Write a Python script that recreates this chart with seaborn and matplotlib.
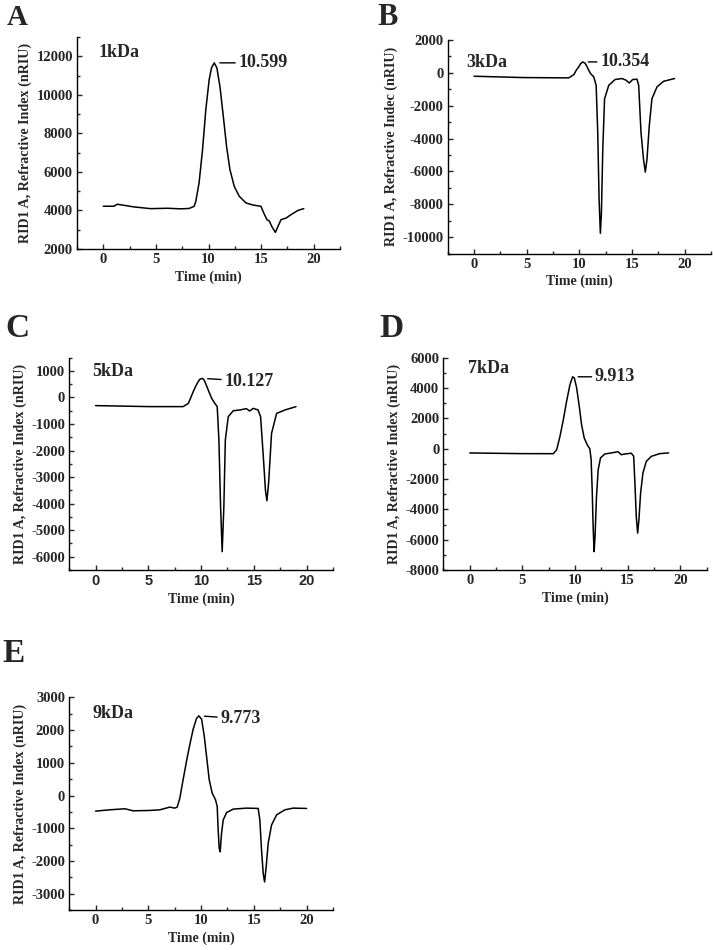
import numpy as np
import matplotlib
matplotlib.use("Agg")
import matplotlib.pyplot as plt
from matplotlib.ticker import MultipleLocator, AutoMinorLocator
import seaborn as sns

# Chromatogram traces (time in min, refractive index in nRIU)
t_1kda = [0, 1.0, 1.33, 2.9, 4.5, 6.1, 7.36, 8.15, 8.63, 8.79, 9.1, 9.43, 9.74, 10.06, 10.28,
          10.54, 10.79, 11.08, 11.4, 11.71, 12.03, 12.44, 12.92, 13.55, 14.19, 14.98, 15.24,
          15.55, 15.78, 16.0, 16.35, 16.63, 16.89, 17.36, 17.84, 18.5, 19.05]
ri_1kda = [4215, 4215, 4320, 4180, 4090, 4110, 4080, 4100, 4210, 4470, 5430, 7160, 9230, 10790,
           11400, 11660, 11400, 10440, 8890, 7330, 6120, 5250, 4730, 4390, 4280, 4210, 3870,
           3520, 3440, 3170, 2860, 3210, 3520, 3600, 3780, 4000, 4090]

t_3kda = [0, 4.6, 9.0, 9.5, 9.7, 9.95, 10.1, 10.33, 10.55, 10.74, 10.9, 11.06, 11.37, 11.6,
          11.75, 11.88, 12.0, 12.1, 12.23, 12.4, 12.8, 13.4, 14.06, 14.44, 14.75, 15.07, 15.48,
          15.64, 15.86, 16.1, 16.27, 16.43, 16.65, 16.9, 17.38, 18.0, 19.05]
ri_3kda = [-210, -290, -310, -100, 150, 360, 540, 660, 580, 360, 150, -40, -250, -760, -3620,
           -7710, -9760, -8530, -4650, -1580, -760, -410, -350, -450, -620, -410, -390, -760,
           -3620, -5260, -6040, -5260, -3210, -1580, -860, -520, -350]

t_5kda = [0, 5.15, 8.3, 8.8, 9.26, 9.5, 9.73, 9.9, 10.1, 10.25, 10.36, 10.5, 10.68, 11.0, 11.3,
          11.53, 11.69, 11.85, 12.0, 12.16, 12.3, 12.58, 13.05, 13.68, 14.3, 14.6, 14.94, 15.4,
          15.64, 15.9, 16.1, 16.24, 16.4, 16.68, 17.16, 17.95, 19.0]
ri_5kda = [-306, -344, -344, -220, 220, 430, 600, 690, 720, 680, 600, 460, 280, -30, -220,
           -344, -1600, -4110, -5810, -4110, -1600, -720, -500, -470, -420, -510, -410, -470,
           -720, -2230, -3490, -3890, -3230, -1350, -600, -470, -344]

t_7kda = [0, 5.04, 7.94, 8.26, 8.57, 8.89, 9.2, 9.52, 9.77, 9.93, 10.15, 10.4, 10.62, 10.87,
          11.15, 11.41, 11.53, 11.63, 11.72, 11.81, 11.9, 12.04, 12.2, 12.42, 12.83, 13.46,
          14.08, 14.4, 14.72, 15.35, 15.57, 15.69, 15.82, 15.95, 16.07, 16.23, 16.45, 16.77,
          17.24, 18.02, 18.9]
ri_7kda = [-283, -327, -330, -65, 815, 1920, 3130, 4230, 4740, 4670, 4020, 2800, 1590, 710,
           270, -20, -730, -2710, -5140, -6790, -5800, -3150, -1390, -610, -350, -280, -200,
           -400, -350, -300, -500, -2270, -4480, -5570, -4690, -2930, -1610, -840, -510, -330,
           -280]

t_9kda = [0, 1.36, 2.78, 3.57, 5.15, 6.09, 7.04, 7.5, 7.74, 7.99, 8.3, 8.62, 8.94, 9.25, 9.57,
          9.79, 10.05, 10.3, 10.52, 10.77, 11.05, 11.37, 11.53, 11.62, 11.72, 11.81, 11.94,
          12.1, 12.42, 13.05, 14.31, 15.41, 15.57, 15.73, 15.89, 16.02, 16.17, 16.36, 16.68,
          17.16, 17.94, 18.73, 20.0]
ri_9kda = [-477, -436, -405, -467, -456, -437, -354, -385, -354, -77, 486, 1050, 1563, 2025,
           2354, 2434, 2332, 1820, 1200, 486, 77, -130, -335, -1052, -1615, -1720, -1154, -745,
           -520, -415, -385, -395, -745, -1667, -2385, -2640, -2180, -1462, -900, -590, -437,
           -385, -395]

panel_letters = ["A", "B", "C", "D", "E"]
sample_names = ["1kDa", "3kDa", "5kDa", "7kDa", "9kDa"]
peak_labels = ["10.599", "10.354", "10.127", "9.913", "9.773"]
y_labels = ["RID1 A, Refractive Index (nRIU)", "RID1 A, Refractive Indec (nRIU)",
            "RID1 A, Refractive Index (nRIU)", "RID1 A, Refractive Index (nRIU)",
            "RID1 A, Refractive Index (nRIU)"]
traces = [(t_1kda, ri_1kda), (t_3kda, ri_3kda), (t_5kda, ri_5kda),
          (t_7kda, ri_7kda), (t_9kda, ri_9kda)]

sns.set_style("ticks")
plt.rcParams["font.family"] = ["Liberation Serif", "DejaVu Serif"]
plt.rcParams["font.weight"] = "bold"
plt.rcParams["axes.labelweight"] = "bold"
plt.rcParams["axes.unicode_minus"] = False

# layout of each panel: axes rect, y limits, y step, letter pos/size, name pos, label offset
layout = [
    dict(rect=[0.108, 0.738, 0.369, 0.223], ylim=(2000, 13000), ystep=2000,
         letter=(0.010, 0.9737), lsize=21, name=(0.08, 0.907), off=(17.5, 0)),
    dict(rect=[0.628, 0.733, 0.369, 0.225], ylim=(-11000, 2000), ystep=2000,
         letter=(0.530, 0.9737), lsize=22, name=(0.07, 0.875), off=(12.5, 0)),
    dict(rect=[0.097, 0.400, 0.370, 0.2235], ylim=(-6500, 1500), ystep=1000,
         letter=(0.007, 0.6453), lsize=24, name=(0.089, 0.914), off=(16, -2)),
    dict(rect=[0.622, 0.400, 0.369, 0.2235], ylim=(-8000, 6000), ystep=2000,
         letter=(0.532, 0.6453), lsize=24, name=(0.093, 0.926), off=(16, 0)),
    dict(rect=[0.097, 0.042, 0.370, 0.224], ylim=(-3500, 3000), ystep=1000,
         letter=(0.003, 0.3032), lsize=24, name=(0.089, 0.901), off=(15.5, -2)),
]

fig = plt.figure(figsize=(7.13, 9.5), dpi=100)

for i, (t, ri) in enumerate(traces):
    cfg = layout[i]
    ax = fig.add_axes(cfg["rect"])
    sns.lineplot(x=t, y=ri, ax=ax, color="black", lw=1.1, sort=False, estimator=None)
    for ln in ax.lines:
        ln.set_solid_joinstyle("round")

    ax.set_xlim(-2.5, 22.5)
    ax.set_ylim(*cfg["ylim"])
    ax.xaxis.set_major_locator(MultipleLocator(5))
    ax.yaxis.set_major_locator(MultipleLocator(cfg["ystep"]))
    ax.xaxis.set_minor_locator(AutoMinorLocator(2))
    ax.yaxis.set_minor_locator(AutoMinorLocator(2))
    ax.tick_params(which="major", direction="in", length=3.5, width=1, labelsize=10.5, pad=3)
    ax.tick_params(which="minor", direction="in", length=2, width=1)
    for side in ["top", "right"]:
        ax.spines[side].set_visible(False)
    for side in ["left", "bottom"]:
        ax.spines[side].set_linewidth(1)
        ax.spines[side].set_color("black")

    for lab in ax.get_xticklabels() + ax.get_yticklabels():
        lab.set_fontweight("bold")
    if i == 2:
        # panel C uses a sans face on the time axis
        for lab in ax.get_xticklabels():
            lab.set_fontfamily(["Liberation Sans", "DejaVu Sans"])

    ax.set_xlabel("Time (min)", fontsize=10, fontweight="bold", labelpad=3)
    ax.set_ylabel(y_labels[i], fontsize=10.2, fontweight="bold", labelpad=3)

    ax.text(cfg["name"][0], cfg["name"][1], sample_names[i], transform=ax.transAxes,
            fontsize=13, fontweight="bold", ha="left", va="baseline")

    k = int(np.argmax(ri))
    ax.annotate(peak_labels[i], xy=(t[k], ri[k]), xytext=cfg["off"],
                textcoords="offset points", ha="left", va="center",
                fontsize=13, fontweight="bold",
                arrowprops=dict(arrowstyle="-", color="black", lw=1, shrinkA=0, shrinkB=4))

    fig.text(cfg["letter"][0], cfg["letter"][1], panel_letters[i], fontsize=cfg["lsize"],
             fontweight="bold", ha="left", va="baseline")

fig.savefig("out.png", dpi=100)
